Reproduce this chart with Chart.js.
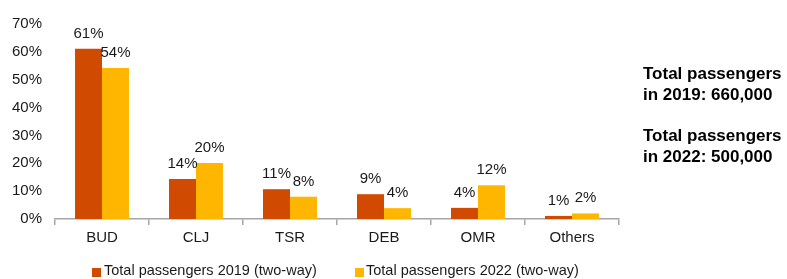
<!DOCTYPE html>
<html>
<head>
<meta charset="utf-8">
<script src="https://cdn.jsdelivr.net/npm/chart.js@4/dist/chart.umd.min.js"></script>
<style>
  html, body { margin: 0; padding: 0; background: #fff; overflow: hidden; }
  #wrap { position: relative; width: 787px; height: 279px; font-family: "Liberation Sans", Arial, sans-serif; color: #1a1a1a; }
  #chart { position: absolute; left: 0; top: 0; }
  .leg { position: absolute; font-size: 14.5px; line-height: 17px; white-space: nowrap; }
  .box { position: absolute; width: 9px; height: 9px; }
  .note { position: absolute; left: 643px; font-weight: bold; font-size: 17px; line-height: 20.5px; white-space: nowrap; color: #000; }
</style>
</head>
<body>
<div id="wrap">
  <canvas id="chart" width="787" height="279"></canvas>
  <div class="box" style="left:92px; top:268px; background:#D04A02;"></div>
  <div class="leg" style="left:104px; top:262px;">Total passengers 2019 (two-way)</div>
  <div class="box" style="left:355px; top:268px; background:#FFB600;"></div>
  <div class="leg" style="left:366px; top:262px;">Total passengers 2022 (two-way)</div>
  <div class="note" style="top:64px;">Total passengers<br>in 2019: 660,000</div>
  <div class="note" style="top:126px;">Total passengers<br>in 2022: 500,000</div>
</div>
<script>
const categories = ["BUD", "CLJ", "TSR", "DEB", "OMR", "Others"];
const values2019 = [61.1, 14.4, 10.7, 8.9, 4.0, 1.1];
const values2022 = [54.2, 20.1, 8.0, 3.9, 12.1, 2.0];
const labels2019 = ["61%", "14%", "11%", "9%", "4%", "1%"];
const labels2022 = ["54%", "20%", "8%", "4%", "12%", "2%"];
const seriesNames = ["Total passengers 2019 (two-way)", "Total passengers 2022 (two-way)"];
const yTicks = [0, 10, 20, 30, 40, 50, 60, 70];

const FONT = "'Liberation Sans', Arial, sans-serif";
const TEXT = "#1a1a1a";
const AXIS = "#a6a6a6";

const dataLabelPlugin = {
  id: "dataLabels",
  afterDatasetsDraw(chart) {
    const ctx = chart.ctx;
    const lbls = [labels2019, labels2022];
    ctx.save();
    ctx.font = "15px " + FONT;
    ctx.fillStyle = TEXT;
    ctx.textAlign = "center";
    ctx.textBaseline = "alphabetic";
    chart.data.datasets.forEach((ds, di) => {
      const meta = chart.getDatasetMeta(di);
      meta.data.forEach((el, i) => {
        ctx.fillText(lbls[di][i], el.x, el.y - 11);
      });
    });
    ctx.restore();
  }
};

new Chart(document.getElementById("chart"), {
  type: "bar",
  data: {
    labels: categories,
    datasets: [
      { label: seriesNames[0], data: values2019, backgroundColor: "#D04A02", borderWidth: 0 },
      { label: seriesNames[1], data: values2022, backgroundColor: "#FFB600", borderWidth: 0 }
    ]
  },
  options: {
    responsive: false,
    animation: false,
    devicePixelRatio: 1,
    layout: { padding: { top: 24, right: 168, bottom: 28, left: 0 } },
    datasets: { bar: { categoryPercentage: 0.574, barPercentage: 1.0 } },
    plugins: {
      legend: { display: false },
      tooltip: { enabled: false }
    },
    scales: {
      x: {
        grid: { display: true, drawOnChartArea: false, drawTicks: true, tickLength: 6, color: AXIS, lineWidth: 1.5, offset: true },
        border: { display: true, color: AXIS, width: 1.5 },
        ticks: { font: { size: 15, family: FONT }, color: TEXT, padding: 4, maxRotation: 0 }
      },
      y: {
        min: 0, max: 70,
        afterBuildTicks(scale) { scale.ticks = yTicks.map(v => ({ value: v })); },
        afterFit(scale) { scale.width = 55; },
        grid: { display: false, drawTicks: false },
        border: { display: false },
        ticks: { font: { size: 15, family: FONT }, color: TEXT, padding: 13, callback: v => v + "%" }
      }
    }
  },
  plugins: [dataLabelPlugin]
});
</script>
</body>
</html>
